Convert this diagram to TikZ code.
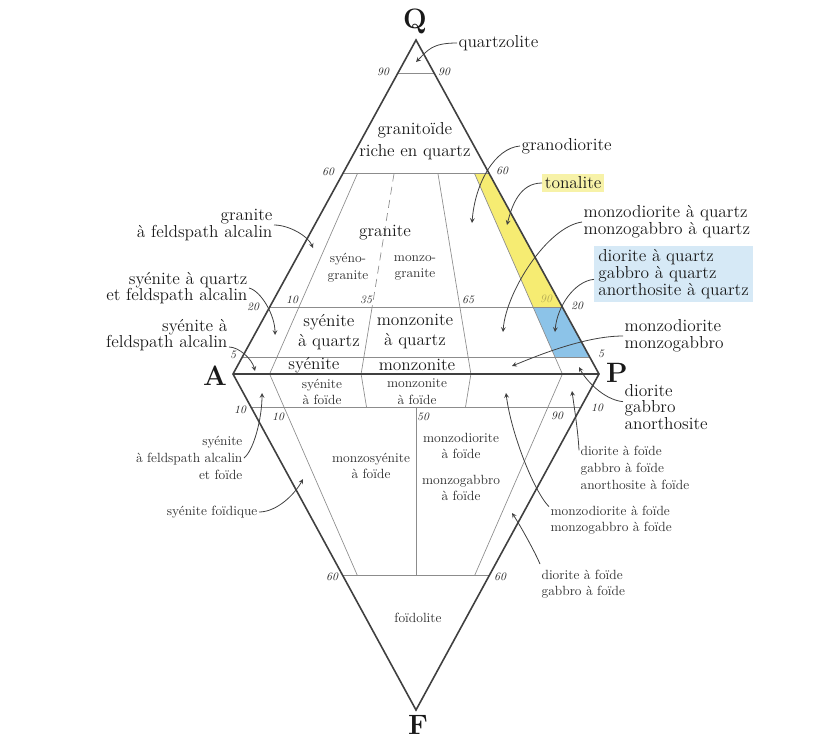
\documentclass[tikz,border=0pt]{standalone}
\usepackage{fontspec}
\usetikzlibrary{calc,arrows}
\usepackage{xcolor}

\definecolor{jaune}{HTML}{F6EC72}
\definecolor{bleu}{HTML}{8CC3E8}
\definecolor{jauneclair}{HTML}{F7F2A8}
\definecolor{bleuclair}{HTML}{D6E9F6}
\definecolor{olive}{HTML}{B5AC55}

\begin{document}
\begin{tikzpicture}[x=0.75pt,y=-0.75pt,
    bord/.style={line width=1.2pt,draw=black!75},
    ligne/.style={line width=0.5pt,draw=black!45},
    num/.style={font=\fontsize{8.5}{10}\selectfont\itshape,text=black!85,inner sep=1pt},
    grand/.style={font=\fontsize{13}{12.5}\selectfont,text=black!90,align=center,inner sep=1pt},
    petit/.style={font=\fontsize{10}{12.5}\selectfont,text=black!80,align=center,inner sep=1pt},
    sommet/.style={font=\fontsize{21}{24}\selectfont\bfseries,text=black!90},
    fleche/.style={-stealth,line width=0.6pt,draw=black!75}]
    \useasboundingbox (0,0) rectangle (839,750);
    % sommets
    \coordinate (Q) at (416,40);
    \coordinate (A) at (233,374);
    \coordinate (P) at (599,374);
    \coordinate (F) at (416,710);
    \foreach \p in {10,35,50,65,90}
    \coordinate (b\p) at ($(A)!0.\p!(P)$);
    % tonalite et diorite a quartz
    \fill[jaune] ($(b90)!0.6!(Q)$) -- ($(P)!0.6!(Q)$) -- ($(P)!0.2!(Q)$) -- ($(b90)!0.2!(Q)$) -- cycle;
    \fill[bleu] ($(b90)!0.2!(Q)$) -- ($(P)!0.2!(Q)$) -- ($(P)!0.05!(Q)$) -- ($(b90)!0.05!(Q)$) -- cycle;
    % lignes horizontales
    \foreach \q in {0.9,0.6,0.2,0.05}
    \draw[ligne] ($(A)!\q!(Q)$) -- ($(P)!\q!(Q)$);
    \foreach \f in {0.1,0.6}
    \draw[ligne] ($(A)!\f!(F)$) -- ($(P)!\f!(F)$);
    % lignes vers Q et F
    \foreach \p in {10,65,90}
    \draw[ligne] ($(b\p)!0.6!(Q)$) -- (b\p);
    \draw[ligne,dash pattern=on 6pt off 4pt] ($(b35)!0.6!(Q)$) -- ($(b35)!0.2!(Q)$);
    \draw[ligne] ($(b35)!0.2!(Q)$) -- (b35);
    \foreach \p in {10,90}
    \draw[ligne] (b\p) -- ($(b\p)!0.6!(F)$);
    \foreach \p in {35,65}
    \draw[ligne] (b\p) -- ($(b\p)!0.1!(F)$);
    \draw[ligne] ($(b50)!0.1!(F)$) -- ($(b50)!0.6!(F)$);
    % bords
    \draw[bord] (A) -- (Q) -- (P) -- (F) -- cycle;
    \draw[bord] (A) -- (P);
    \node[sommet] (lQ) at (415,21) {Q};
    \node[sommet] (lA) at (215,376) {A};
    \node[sommet] (lP) at (617,373) {P};
    \node[sommet] (lF) at (418,725) {F};
    % valeurs
    \foreach \x/\y/\t [count=\i] in {383/72/90, 444/72/90, 328/172/60, 502/171/60,
        253/307/20, 292/300/10, 366/300/35, 468/300/65, 577/306/20, 233/355/5,
        601/354/5, 240/410/10, 278/417/10, 423/417/50, 557/416/90, 597/408/10,
        332/577/60, 500/577/60}
    \node[num] (n\i) at (\x,\y) {\t};
    \node[num,text=olive] (n90t) at (546,299) {90};
    % champs
    \node[grand,font=\fontsize{13}{17}\selectfont] (rgranitoide) at (415,141) {granitoïde\\riche en quartz};
    \node[grand] (rgranite) at (385,233) {granite};
    \node[petit] (rsyenogr) at (348,268) {syéno-\\granite};
    \node[petit] (rmonzogr) at (415,268) {monzo-\\granite};
    \node[grand,font=\fontsize{13}{15}\selectfont] (rsyq) at (329,332) {syénite\\à quartz};
    \node[grand,font=\fontsize{13}{15}\selectfont] (rmzq) at (415,332) {monzonite\\à quartz};
    \node[grand] (rsy) at (314,365) {syénite};
    \node[grand] (rmz) at (417,365) {monzonite};
    \node[petit] (rsyf) at (322,392) {syénite\\à foïde};
    \node[petit] (rmzf) at (417,392) {monzonite\\à foïde};
    \node[petit] (rmzsyf) at (371,466) {monzosyénite\\à foïde};
    \node[petit] (rmzdf) at (461,446) {monzodiorite\\à foïde};
    \node[petit] (rmzgf) at (461,488) {monzogabbro\\à foïde};
    \node[petit] (rfoid) at (418,618) {foïdolite};
    % noms a droite
    \node[grand,anchor=west] (lquartzolite) at (457,43) {quartzolite};
    \node[grand,anchor=west] (lgranodiorite) at (520,146) {granodiorite};
    \node[grand,anchor=west,fill=jauneclair,inner sep=2pt] (ltonalite) at (542,183) {tonalite};
    \node[grand,anchor=west,align=left] (lmzdq) at (582,222) {monzodiorite à quartz\\monzogabbro à quartz};
    \node[grand,anchor=west,align=left,fill=bleuclair,inner sep=3pt] (ldq) at (594,274) {diorite à quartz\\gabbro à quartz\\anorthosite à quartz};
    \node[grand,anchor=west,align=left] (lmzd) at (623,336) {monzodiorite\\monzogabbro};
    \node[grand,anchor=west,align=left] (ldio) at (623,407) {diorite\\gabbro\\anorthosite};
    \node[petit,anchor=west,align=left] (ldiof) at (579,468) {diorite à foïde\\gabbro à foïde\\anorthosite à foïde};
    \node[petit,anchor=west,align=left] (lmzdf) at (549,520) {monzodiorite à foïde\\monzogabbro à foïde};
    \node[petit,anchor=west,align=left] (ldiofb) at (540,584) {diorite à foïde\\gabbro à foïde};
    % noms a gauche
    \node[grand,anchor=east,align=right] (lgfa) at (274,225) {granite\\à feldspath alcalin};
    \node[grand,anchor=east,align=right] (lsqfa) at (249,288) {syénite à quartz\\et feldspath alcalin};
    \node[grand,anchor=east,align=right] (lsfa) at (229,335) {syénite à\\feldspath alcalin};
    \node[petit,anchor=east,align=right] (lsfaf) at (244,458) {syénite\\à feldspath alcalin\\et foïde};
    \node[petit,anchor=east,align=right] (lsfoid) at (259,512) {syénite foïdique};
    % pointes des fleches
    \coordinate (tquartzolite) at (416,62);
    \coordinate (tgranodiorite) at (472,223);
    \coordinate (ttonalite) at (507,225);
    \coordinate (tmzdq) at (503,332);
    \coordinate (tdq) at (555,332);
    \coordinate (tmzd) at (512,366);
    \coordinate (tdio) at (579,367);
    \coordinate (tdiof) at (572,391);
    \coordinate (tmzdf) at (506,393);
    \coordinate (tdiofb) at (512,513);
    \coordinate (tgfa) at (313,248);
    \coordinate (tsqfa) at (275,335);
    \coordinate (tsfa) at (255,371);
    \coordinate (tsfaf) at (262,393);
    \coordinate (tsfoid) at (303,479);
    % fleches
    \draw[fleche] (lquartzolite.west) .. controls +(-25,0) and +(12,-12) .. (tquartzolite);
    \draw[fleche] (lgranodiorite.west) .. controls +(-25,2) and +(3,-40) .. (tgranodiorite);
    \draw[fleche] (ltonalite.west) .. controls +(-22,0) and +(5,-20) .. (ttonalite);
    \draw[fleche] (lmzdq.west) .. controls +(-35,5) and +(3,-40) .. (tmzdq);
    \draw[fleche] ([yshift=-4pt]ldq.west) .. controls +(-20,2) and +(2,-25) .. (tdq);
    \draw[fleche] (lmzd.west) .. controls +(-40,0) and +(20,-8) .. (tmzd);
    \draw[fleche] ([yshift=4pt]ldio.west) .. controls +(-20,-2) and +(6,12) .. (tdio);
    \draw[fleche] ([yshift=-4pt]ldiof.north west) .. controls +(-1,-20) and +(2,15) .. (tdiof);
    \draw[fleche] ([yshift=-2pt]lmzdf.north west) .. controls +(-15,-15) and +(5,40) .. (tmzdf);
    \draw[fleche] ([yshift=3pt]ldiofb.north west) .. controls +(-5,-12) and +(8,12) .. (tdiofb);
    \draw[fleche] (lgfa.east) .. controls +(15,0) and +(-5,-12) .. (tgfa);
    \draw[fleche] (lsqfa.east) .. controls +(12,3) and +(0,-20) .. (tsqfa);
    \draw[fleche] ([yshift=-9pt]lsfa.east) .. controls +(10,0) and +(-3,-12) .. (tsfa);
    \draw[fleche] (lsfaf.east) .. controls +(10,-8) and +(0,25) .. (tsfaf);
    \draw[fleche] (lsfoid.east) .. controls +(18,0) and +(-8,15) .. (tsfoid);
\end{tikzpicture}
\end{document}
